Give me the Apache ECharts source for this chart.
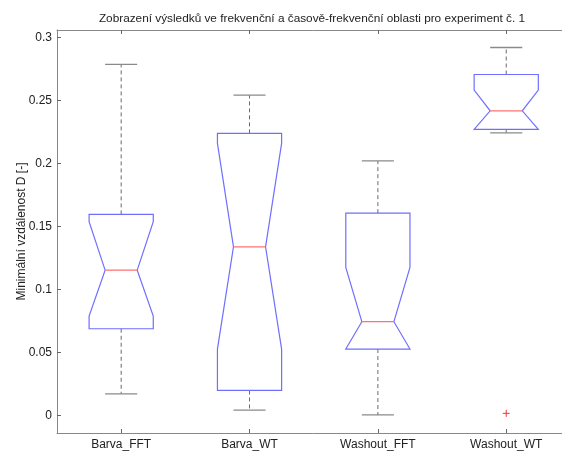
<!DOCTYPE html>
<html>
<head>
<meta charset="utf-8">
<script src="https://cdn.jsdelivr.net/npm/echarts@6/dist/echarts.min.js"></script>
<style>html,body{margin:0;padding:0;background:#fff;overflow:hidden}#c{width:590px;height:453px}</style>
</head>
<body>
<div id="c"></div>
<script>
const categories = ['Barva_FFT', 'Barva_WT', 'Washout_FFT', 'Washout_WT'];
const lowerWhisker = [0.0174, 0.0045, 0.0006, 0.2244];
const q1 = [0.0690, 0.0201, 0.0529, 0.2271];
const notchLow = [0.0790, 0.0529, 0.0529, 0.2271];
const median = [0.1155, 0.1340, 0.0746, 0.2419];
const notchHigh = [0.1540, 0.2160, 0.1177, 0.2583];
const q3 = [0.1597, 0.2240, 0.1607, 0.2707];
const upperWhisker = [0.2787, 0.2543, 0.2022, 0.2921];
const outlierCat = [3];
const outlierVal = [0.0019];
const yTicks = [0, 0.05, 0.1, 0.15, 0.2, 0.25, 0.3];

const boxData = categories.map((c, i) => [i, lowerWhisker[i], q1[i], notchLow[i], median[i], notchHigh[i], q3[i], upperWhisker[i]]);
const outData = outlierCat.map((c, i) => [c, outlierVal[i]]);

const chart = echarts.init(document.getElementById('c'), null, {renderer: 'canvas'});
const font = 'Liberation Sans, Arial, sans-serif';
const BOX = '#6f6fff', MED = '#ff7070', WH = '#6a6a6a', CAP = '#8a8a8a';

function renderBox(params, api) {
  const i = api.value(0);
  const band = api.size([1, 0])[0];
  const hw = band * 0.25, nw = band * 0.125, cw = band * 0.125;
  const cx = api.coord([i, 0])[0];
  const y = v => api.coord([i, v])[1];
  const lw = api.value(1), b1 = api.value(2), nl = Math.max(api.value(3), b1),
        md = api.value(4), b3 = api.value(6), nh = Math.min(api.value(5), b3), uw = api.value(7);
  const pts = [
    [cx - hw, y(b1)], [cx - hw, y(nl)], [cx - nw, y(md)], [cx - hw, y(nh)], [cx - hw, y(b3)],
    [cx + hw, y(b3)], [cx + hw, y(nh)], [cx + nw, y(md)], [cx + hw, y(nl)], [cx + hw, y(b1)]
  ];
  return {
    type: 'group',
    children: [
      {type: 'line', shape: {x1: cx, y1: y(b3), x2: cx, y2: y(uw)}, style: {stroke: WH, lineWidth: 1, lineDash: [4, 3]}},
      {type: 'line', shape: {x1: cx, y1: y(b1), x2: cx, y2: y(lw)}, style: {stroke: WH, lineWidth: 1, lineDash: [4, 3]}},
      {type: 'line', shape: {x1: cx - cw, y1: y(uw), x2: cx + cw, y2: y(uw)}, style: {stroke: CAP, lineWidth: 1.3}},
      {type: 'line', shape: {x1: cx - cw, y1: y(lw), x2: cx + cw, y2: y(lw)}, style: {stroke: CAP, lineWidth: 1.3}},
      {type: 'polygon', shape: {points: pts}, style: {fill: 'none', stroke: BOX, lineWidth: 1.2}},
      {type: 'line', shape: {x1: cx - nw, y1: y(md), x2: cx + nw, y2: y(md)}, style: {stroke: MED, lineWidth: 1.3}}
    ]
  };
}

function renderOut(params, api) {
  const p = api.coord([api.value(0), api.value(1)]);
  const s = 3.5;
  return {
    type: 'group',
    children: [
      {type: 'line', shape: {x1: p[0] - s, y1: p[1], x2: p[0] + s, y2: p[1]}, style: {stroke: '#ff3030', lineWidth: 1}},
      {type: 'line', shape: {x1: p[0], y1: p[1] - s, x2: p[0], y2: p[1] + s}, style: {stroke: '#ff3030', lineWidth: 1}}
    ]
  };
}

const axisLine = {show: true, onZero: false, lineStyle: {color: '#888', width: 1}};
chart.setOption({
  animation: false,
  backgroundColor: '#fff',
  title: {
    text: 'Zobrazení výsledků ve frekvenční a časově-frekvenční oblasti pro experiment č. 1',
    left: 307, top: 8, textAlign: 'center',
    textStyle: {fontFamily: font, fontSize: 11.8, fontWeight: 'normal', color: '#222'}
  },
  grid: {left: 57, top: 30, width: 513.4, height: 403, containLabel: false},
  xAxis: [{
    type: 'category', data: categories, position: 'bottom',
    axisLine: axisLine,
    axisTick: {show: true, inside: true, alignWithLabel: true, length: 4, lineStyle: {color: '#666'}},
    axisLabel: {fontFamily: font, fontSize: 12, color: '#222', margin: 6, interval: 0},
    splitLine: {show: false}
  }, {
    type: 'category', data: categories, position: 'top',
    axisLine: axisLine,
    axisTick: {show: true, inside: true, alignWithLabel: true, length: 4, lineStyle: {color: '#666'}},
    axisLabel: {show: false},
    splitLine: {show: false}
  }],
  yAxis: {
    type: 'value', min: -0.0137, max: 0.306,
    name: 'Minimální vzdálenost D [-]', nameLocation: 'middle', nameGap: 29, nameRotate: 90,
    nameMoveOverlap: false,
    nameTextStyle: {fontFamily: font, fontSize: 12, color: '#222'},
    axisLine: axisLine,
    axisTick: {show: true, inside: true, length: 4, customValues: yTicks, lineStyle: {color: '#666'}},
    axisLabel: {fontFamily: font, fontSize: 12, color: '#222', margin: 5, customValues: yTicks,
      formatter: v => String(+v.toFixed(3))},
    splitLine: {show: false}
  },
  series: [
    {type: 'custom', renderItem: renderBox, data: boxData, encode: {x: 0, y: [1, 7]}, clip: false},
    {type: 'custom', renderItem: renderOut, data: outData, encode: {x: 0, y: 1}}
  ]
});
</script>
</body>
</html>
